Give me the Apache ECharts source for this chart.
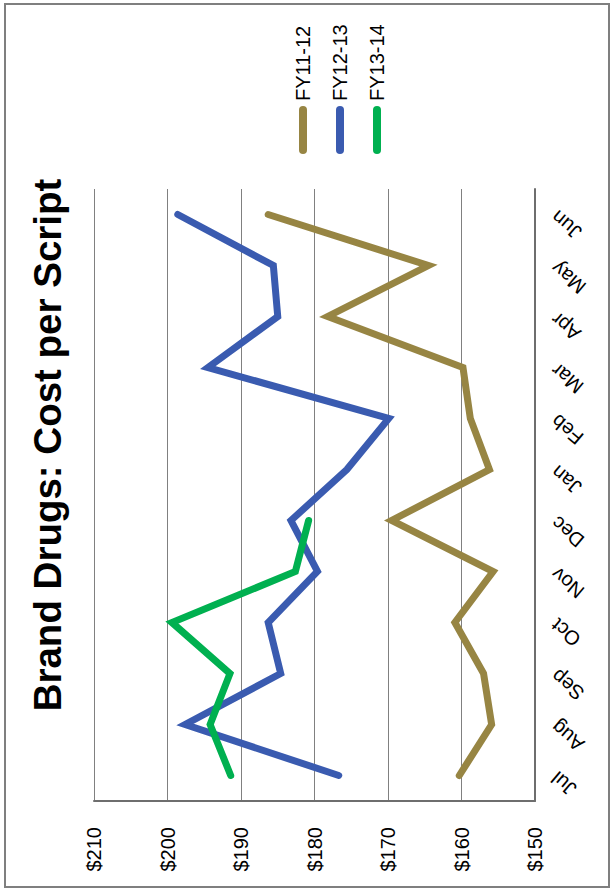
<!DOCTYPE html>
<html>
<head>
<meta charset="utf-8">
<script src="https://cdn.jsdelivr.net/npm/echarts@6/dist/echarts.min.js"></script>
<style>
  html, body { margin: 0; padding: 0; background: #fff; }
  body { width: 613px; height: 888px; position: relative; overflow: hidden; }
  /* The chart is laid out landscape and turned a quarter-turn counter-clockwise */
  #chart {
    position: absolute; left: 0; top: 888px;
    width: 888px; height: 613px;
    transform-origin: 0 0; transform: rotate(-90deg);
  }
</style>
</head>
<body>
<div id="chart"></div>
<script>
const months = ['Jul', 'Aug', 'Sep', 'Oct', 'Nov', 'Dec', 'Jan', 'Feb', 'Mar', 'Apr', 'May', 'Jun'];
const seriesNames = ['FY11-12', 'FY12-13', 'FY13-14'];
const fy1112 = [160.3, 155.9, 157.0, 160.9, 155.7, 169.5, 156.2, 158.8, 159.8, 178.2, 164.5, 186.3];
const fy1213 = [176.7, 197.6, 184.6, 186.3, 179.6, 183.2, 175.6, 169.9, 194.5, 185.0, 185.6, 198.6];
const fy1314 = [191.4, 194.2, 191.5, 199.4, 182.6, 180.8, null, null, null, null, null, null];
const valueTicks = [150, 160, 170, 180, 190, 200, 210];

const colors = ['#978543', '#3a5bb0', '#00b050'];
const font = 'Liberation Sans, Arial, sans-serif';

const chart = echarts.init(document.getElementById('chart'), null, { renderer: 'svg' });

function lineSeries(name, data, color) {
  return {
    name: name,
    type: 'line',
    data: data,
    symbol: 'none',
    connectNulls: false,
    lineStyle: { color: color, width: 7, cap: 'round', join: 'miter' },
    itemStyle: { color: color },
    emphasis: { disabled: true },
    animation: false
  };
}

chart.setOption({
  animation: false,
  textStyle: { fontFamily: font },
  title: {
    text: 'Brand Drugs: Cost per Script',
    left: 438,
    textAlign: 'center',
    top: 23,
    textStyle: { fontFamily: font, fontSize: 38.5, fontWeight: 'bold', color: '#000' }
  },
  legend: {
    orient: 'vertical',
    left: 729,
    top: 288,
    itemWidth: 48,
    itemHeight: 8,
    itemGap: 17,
    icon: 'path://M4,0 H44 A4,4 0 0 1 44,8 H4 A4,4 0 0 1 4,0 Z',
    textStyle: { fontFamily: font, fontSize: 20, color: '#000' },
    data: seriesNames
  },
  graphic: [{
    type: 'rect',
    shape: { x: 1, y: 5, width: 883, height: 604 },
    style: { fill: 'none', stroke: '#7f7f7f', lineWidth: 2 },
    silent: true
  }],
  grid: { left: 87, right: 189, top: 94, bottom: 78 },
  xAxis: {
    type: 'category',
    data: months,
    boundaryGap: true,
    axisLine: { show: true, lineStyle: { color: '#6e6e6e', width: 2 } },
    axisTick: { show: false },
    axisLabel: { rotate: 50, margin: 19, fontFamily: font, fontSize: 20, color: '#000' }
  },
  yAxis: {
    type: 'value',
    min: valueTicks[0],
    max: valueTicks[valueTicks.length - 1],
    interval: 10,
    axisLine: { show: true, lineStyle: { color: '#6e6e6e', width: 2 } },
    axisTick: { show: false },
    splitLine: { show: true, lineStyle: { color: '#808080', width: 1 } },
    axisLabel: {
      margin: 26,
      fontFamily: font, fontSize: 20, color: '#000',
      formatter: v => '$' + v
    }
  },
  series: [
    lineSeries(seriesNames[0], fy1112, colors[0]),
    lineSeries(seriesNames[1], fy1213, colors[1]),
    lineSeries(seriesNames[2], fy1314, colors[2])
  ]
});
</script>
</body>
</html>
